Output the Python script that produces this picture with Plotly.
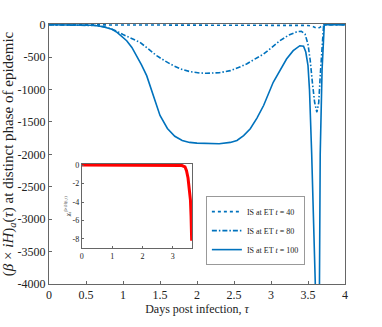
import plotly.graph_objects as go

# main panel curves (IS at ET t = 40, 80, 100)
tau_40 = [0, 0.5, 1.0, 1.5, 2.0, 2.5, 3.0, 3.3, 3.5, 3.55, 3.6, 3.63, 3.66, 3.69, 3.71, 3.8, 4.0]
val_40 = [0, -2, -5, -8, -8, -8, -8, -8, -10, -22, -45, -55, -40, -12, 0, 0, 0]

tau_80 = [0, 0.5, 0.65, 0.78, 0.9, 1.0, 1.1, 1.23, 1.34, 1.455, 1.57, 1.68, 1.8, 1.905,
          2.04, 2.13, 2.3, 2.45, 2.56, 2.67, 2.78, 2.9, 3.01, 3.12, 3.24, 3.35, 3.41,
          3.46, 3.5, 3.53, 3.56, 3.59, 3.62, 3.645, 3.67, 3.69, 3.71, 3.73, 4.0]
val_80 = [0, -2, -12, -40, -90, -150, -205, -272, -370, -477, -560, -630, -690, -723,
          -744, -748, -740, -708, -660, -605, -530, -451, -350, -246, -160, -108, -100,
          -143, -300, -550, -900, -1200, -1349, -1200, -700, -250, -20, 0, 0]

tau_100 = [0, 0.3, 0.5, 0.6, 0.73, 0.85, 0.92, 1.0, 1.05, 1.12, 1.185, 1.25, 1.32, 1.41,
           1.5, 1.6, 1.7, 1.8, 1.9, 2.0, 2.15, 2.3, 2.45, 2.54, 2.63, 2.72, 2.81, 2.9,
           3.03, 3.12, 3.21, 3.3, 3.39, 3.44, 3.47, 3.5, 3.52, 3.55, 3.585, 3.61, 3.635,
           3.655, 3.665, 3.69, 3.71, 3.72, 3.8, 4.0]
val_100 = [0, 0, -3, -8, -30, -70, -118, -190, -246, -350, -477, -620, -785, -1092,
           -1400, -1600, -1720, -1785, -1815, -1826, -1834, -1836, -1815, -1785, -1710,
           -1605, -1440, -1246, -887, -700, -528, -400, -323, -330, -420, -630, -1000,
           -2000, -4000, -5500, -5500, -4000, -2000, -700, -50, 0, 0, 0]

# inset curve
inset_tau = [0, 1, 2, 3, 3.3, 3.4, 3.45, 3.5, 3.55, 3.58, 3.6, 3.62]
inset_val = [0, 0, 0, -0.01, -0.05, -0.2, -0.6, -1.4, -2.6, -3.8, -5.5, -8.2]

y_ticks = [0, -500, -1000, -1500, -2000, -2500, -3000, -3500, -4000]
x_ticks = [0, 0.5, 1, 1.5, 2, 2.5, 3, 3.5, 4]

blue = "#0072BD"
font = "Liberation Serif"

fig = go.Figure()
fig.add_trace(go.Scatter(x=tau_40, y=val_40, mode="lines", name="IS at ET <i>t</i> = 40",
                         line=dict(color=blue, width=1.6, dash="dot")))
fig.add_trace(go.Scatter(x=tau_80, y=val_80, mode="lines", name="IS at ET <i>t</i> = 80",
                         line=dict(color=blue, width=1.6, dash="5px,2px,1.5px,2px")))
fig.add_trace(go.Scatter(x=tau_100, y=val_100, mode="lines", name="IS at ET <i>t</i> = 100",
                         line=dict(color=blue, width=1.6)))
fig.add_trace(go.Scatter(x=inset_tau, y=inset_val, mode="lines", showlegend=False,
                         line=dict(color="#FF0000", width=3), xaxis="x2", yaxis="y2"))

axis_common = dict(showgrid=False, zeroline=False, showline=True, mirror=True,
                   linecolor="#666", linewidth=1, ticks="inside", tickcolor="#666",
                   ticklen=3)

fig.update_layout(
    width=382, height=327,
    margin=dict(l=49, r=37, t=24, b=43),
    paper_bgcolor="white", plot_bgcolor="white",
    font=dict(family=font, size=12, color="#222"),
    xaxis=dict(axis_common, range=[0, 4], tickvals=x_ticks, automargin=False,
               title=dict(text="Days post infection, <i>τ</i>", font=dict(size=12), standoff=3)),
    yaxis=dict(axis_common, range=[-4000, 12], tickvals=y_ticks, automargin=False,
               ticktext=[str(v) for v in y_ticks],
               title=dict(text="(<i>β</i> × <i>iH</i>)<sub><i>a</i></sub>(<i>τ</i>) at distinct phase of epidemic",
                          font=dict(size=15), standoff=1)),
    xaxis2=dict(axis_common, domain=[0.111, 0.483], anchor="y2", range=[0, 3.63],
                tickvals=[0, 1, 2, 3], tickfont=dict(size=8), ticklen=2),
    yaxis2=dict(axis_common, domain=[0.138, 0.4615], anchor="x2", range=[-9, 0.12],
                tickvals=[0, -2, -4, -6, -8], ticktext=["0", "-2", "-4", "-6", "-8"],
                tickfont=dict(size=8), ticklen=2,
                title=dict(text="<i>χ</i><sub>a</sub><sup>β×iH(t,τ)</sup>", font=dict(size=6), standoff=1)),
    legend=dict(x=0.53, y=0.338, xanchor="left", yanchor="top",
                font=dict(family=font, size=8), bgcolor="white",
                bordercolor="#999", borderwidth=1, itemwidth=30,
                tracegroupgap=0),
    showlegend=True,
)

fig.write_html("out.html", config={"displayModeBar": False},
               post_script="document.body.style.margin='0px';")
